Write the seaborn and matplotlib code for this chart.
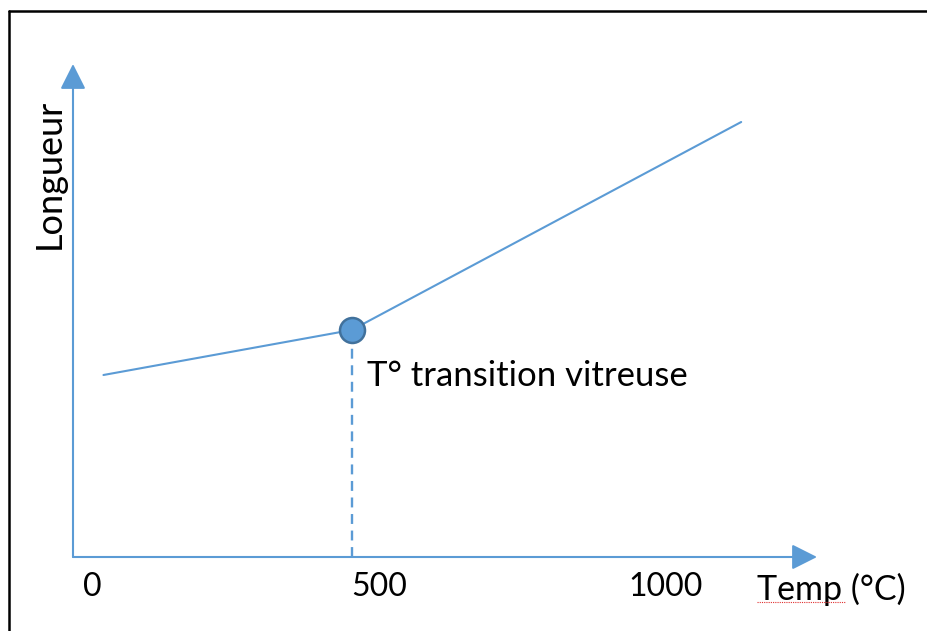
import numpy as np
import pandas as pd
import seaborn as sns
import matplotlib.pyplot as plt
from matplotlib.lines import Line2D

# ---- data (schematic) ----
temperature = [20, 453, 1132]          # °C
longueur = [1.82, 2.27, 4.35]          # arbitrary length units
tg_temp = 453
tg_len = 2.27
xtick_values = [0, 500, 1000]
xtick_labels = ["0", "500", "1000"]
xlabel = "Temp (°C)"
ylabel = "Longueur"
annotation = "T° transition vitreuse"

BLUE = "#5B9BD5"
DARK_BLUE = "#41719C"

sns.set_theme(style="white")
plt.rcParams['font.family'] = ['Lato', 'DejaVu Sans']

fig = plt.figure(figsize=(9.28, 6.31), dpi=100)
ax = fig.add_axes([73 / 928, 74 / 631, 744 / 928, 493 / 631])
ax.set_xlim(-33.1, 1264.2)
ax.set_ylim(0, 4.93)

df = pd.DataFrame({"Temp": temperature, "Longueur": longueur})
sns.lineplot(data=df, x="Temp", y="Longueur", ax=ax, color=BLUE, lw=1.5)

# dashed drop line at glass transition
ax.plot([tg_temp, tg_temp], [0, tg_len], color=BLUE, lw=1.7,
        ls=(0, (4.2, 2.8)), zorder=2)
# transition point
ax.plot([tg_temp], [tg_len], marker="o", ms=18, mfc=BLUE, mec=DARK_BLUE,
        mew=1.8, zorder=4, ls="none")
ax.text(tg_temp + 27, tg_len - 0.46, annotation, fontsize=25,
        ha="left", va="center", color="black")

# axes as arrows
for s in ax.spines.values():
    s.set_visible(False)
arrow = dict(arrowstyle="-|>,head_length=15.5,head_width=7.8", mutation_scale=1,
             color=BLUE, lw=1.5, shrinkA=0, shrinkB=0)
ax.annotate("", xy=(1, 0), xytext=(0, 0), xycoords="axes fraction",
            arrowprops=arrow, annotation_clip=False)
ax.annotate("", xy=(0, 1), xytext=(0, 0), xycoords="axes fraction",
            arrowprops=arrow, annotation_clip=False)

ax.set_xticks(xtick_values)
ax.set_xticklabels(xtick_labels, fontsize=23, color="black")
ax.set_yticks([])
ax.tick_params(axis="x", length=0, pad=11)

ax.set_xlabel(xlabel, fontsize=24.5, color="black")
ax.xaxis.set_label_coords((831 - 73) / 744, (557 - 573) / 493)
ax.set_ylabel(ylabel, fontsize=26, color="black")
ax.yaxis.set_label_coords((66 - 73) / 744, (557 - 174) / 493)

# spell-check squiggle under "Temp"
ax.plot([(757 - 73) / 744, (845 - 73) / 744], [(557 - 602) / 493] * 2,
        transform=ax.transAxes, color="#E03030", lw=0.8, ls=(0, (1, 1)),
        clip_on=False)

# frame of the screenshot (top and left edges)
fig.add_artist(Line2D([9.5 / 928, 1.0], [1 - 11 / 631, 1 - 11 / 631],
                      color="black", lw=1.8))
fig.add_artist(Line2D([9.5 / 928, 9.5 / 928], [0, 1 - 11 / 631],
                      color="black", lw=1.8))

fig.savefig("out.png", dpi=100)
